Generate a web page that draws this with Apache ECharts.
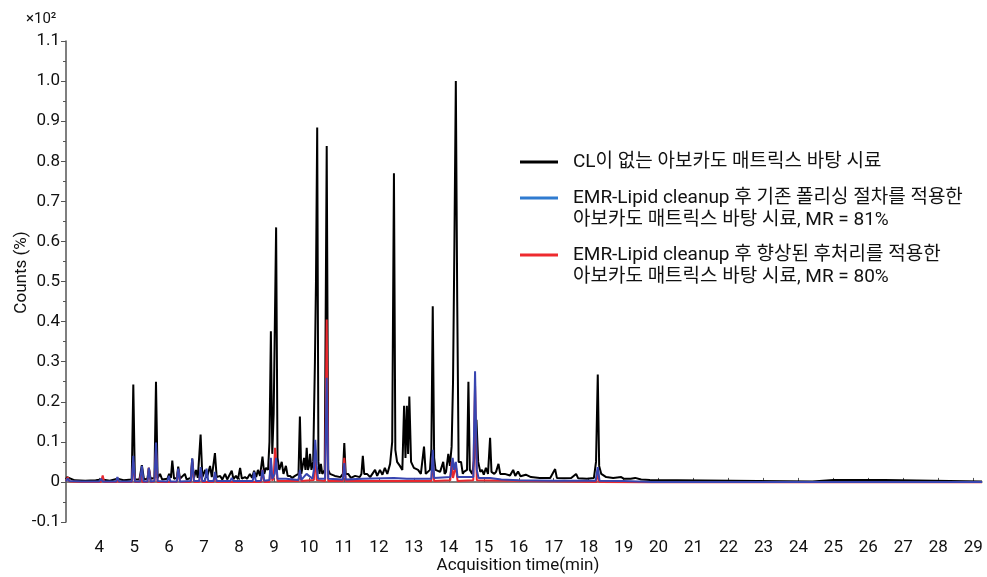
<!DOCTYPE html>
<html>
<head>
<meta charset="utf-8">
<script src="https://cdn.jsdelivr.net/npm/echarts@6/dist/echarts.min.js"></script>
<style>html,body{margin:0;padding:0;background:#fff;}#c{width:987px;height:577px;}</style>
</head>
<body>
<div id="c"></div>
<script>
const seriesNames = [
  'CL이 없는 아보카도 매트릭스 바탕 시료',
  'EMR-Lipid cleanup 후 기존 폴리싱 절차를 적용한\n아보카도 매트릭스 바탕 시료, MR = 81%',
  'EMR-Lipid cleanup 후 향상된 후처리를 적용한\n아보카도 매트릭스 바탕 시료, MR = 80%'
];
const xTicks = [4,5,6,7,8,9,10,11,12,13,14,15,16,17,18,19,20,21,22,23,24,25,26,27,28,29];

const blackT = [3.05,3.08,3.12,3.3,3.6,3.9,4.08,4.3,4.52,4.7,4.93,4.975,5.02,5.15,5.22,5.28,5.38,5.42,5.47,5.58,5.624,5.67,5.74,5.8,5.95,6.0,6.05,6.09,6.14,6.22,6.26,6.31,6.45,6.5,6.62,6.66,6.71,6.77,6.82,6.86,6.9,6.95,7.03,7.08,7.17,7.22,7.27,7.31,7.36,7.46,7.52,7.6,7.66,7.79,7.84,7.91,7.97,8.03,8.08,8.17,8.23,8.31,8.37,8.43,8.49,8.54,8.6,8.67,8.72,8.77,8.83,8.87,8.91,8.95,8.99,9.06,9.1,9.15,9.22,9.27,9.34,9.39,9.46,9.52,9.6,9.7,9.74,9.78,9.86,9.9,9.935,9.97,10.0,10.03,10.07,10.12,10.17,10.2,10.235,10.27,10.3,10.34,10.38,10.45,10.507,10.55,10.6,10.74,10.9,10.97,11.01,11.05,11.12,11.2,11.32,11.45,11.5,11.54,11.58,11.66,11.75,11.89,11.95,12.03,12.1,12.17,12.24,12.32,12.38,12.43,12.47,12.52,12.6,12.67,12.72,12.76,12.8,12.835,12.87,12.92,13.0,13.12,13.2,13.29,13.34,13.38,13.46,13.5,13.54,13.58,13.62,13.75,13.84,13.88,13.92,13.985,14.03,14.08,14.12,14.16,14.2,14.24,14.28,14.35,14.4,14.43,14.52,14.56,14.6,14.67,14.73,14.79,14.84,14.9,14.95,15.0,15.06,15.12,15.18,15.22,15.3,15.35,15.42,15.47,15.6,15.75,15.84,15.9,15.98,16.05,16.2,16.35,16.6,16.9,17.04,17.09,17.3,17.5,17.64,17.7,17.95,18.15,18.21,18.26,18.3,18.36,18.5,18.7,18.93,19.0,19.2,19.33,19.5,19.75,19.8,24.4,24.42,25.0,25.05,25.1,26.46,26.48,29.25];
const blackV = [0.006,0.012,0.008,0.004,0.003,0.004,0.006,0.003,0.008,0.004,0.006,0.243,0.006,0.006,0.042,0.006,0.008,0.035,0.008,0.01,0.25,0.01,0.02,0.006,0.008,0.02,0.01,0.053,0.008,0.01,0.038,0.008,0.02,0.006,0.01,0.058,0.01,0.03,0.01,0.012,0.118,0.012,0.03,0.01,0.04,0.012,0.015,0.072,0.012,0.015,0.006,0.02,0.006,0.028,0.007,0.015,0.007,0.035,0.008,0.012,0.008,0.02,0.01,0.028,0.012,0.03,0.015,0.063,0.02,0.035,0.03,0.1,0.376,0.07,0.17,0.635,0.06,0.03,0.05,0.02,0.04,0.015,0.015,0.01,0.015,0.02,0.163,0.02,0.06,0.03,0.085,0.03,0.04,0.07,0.03,0.05,0.3,0.5,0.884,0.05,0.02,0.045,0.02,0.03,0.838,0.03,0.02,0.015,0.012,0.02,0.097,0.02,0.02,0.01,0.015,0.012,0.02,0.065,0.02,0.02,0.012,0.03,0.015,0.03,0.018,0.035,0.02,0.045,0.1,0.77,0.08,0.05,0.04,0.03,0.19,0.06,0.19,0.07,0.213,0.05,0.035,0.03,0.02,0.088,0.02,0.02,0.03,0.08,0.438,0.06,0.03,0.025,0.05,0.02,0.025,0.07,0.04,0.088,0.25,0.6,1.0,0.45,0.05,0.05,0.02,0.025,0.03,0.25,0.03,0.02,0.06,0.155,0.05,0.025,0.03,0.018,0.035,0.02,0.11,0.025,0.02,0.025,0.045,0.02,0.02,0.016,0.03,0.015,0.026,0.014,0.018,0.012,0.01,0.01,0.032,0.01,0.009,0.01,0.02,0.009,0.008,0.01,0.05,0.268,0.04,0.02,0.012,0.01,0.012,0.008,0.008,0.01,0.006,0.005,0.001,0.001,0.005,0.005,0.009,0.005,0.005,0.001,0.001];

const blueT = [3.05,3.1,3.15,3.5,4.0,4.05,4.1,4.48,4.52,4.57,4.93,4.975,5.02,5.17,5.22,5.27,5.38,5.42,5.47,5.58,5.624,5.67,5.95,5.99,6.04,6.22,6.26,6.31,6.62,6.66,6.71,6.86,6.9,6.95,7.03,7.07,7.12,7.27,7.31,7.36,7.6,7.75,7.79,7.84,8.39,8.43,8.48,8.63,8.67,8.72,8.87,8.91,8.95,9.02,9.06,9.1,9.34,9.7,9.74,9.78,9.93,10.1,10.14,10.18,10.22,10.26,10.46,10.507,10.55,10.97,11.01,11.05,11.54,12.43,12.8,13.5,13.54,13.58,14.04,14.11,14.15,14.2,14.25,14.56,14.7,14.75,14.8,14.85,15.18,15.5,16.0,17.0,18.2,18.26,18.31,19.0,19.8,29.25];
const blueV = [0.002,0.008,0.002,0.001,0.001,0.008,0.001,0.001,0.012,0.001,0.001,0.065,0.001,0.001,0.04,0.001,0.001,0.035,0.001,0.002,0.098,0.002,0.001,0.015,0.001,0.001,0.033,0.001,0.002,0.058,0.002,0.002,0.037,0.002,0.002,0.033,0.002,0.002,0.025,0.002,0.002,0.002,0.01,0.002,0.002,0.025,0.002,0.003,0.03,0.003,0.005,0.06,0.008,0.02,0.06,0.008,0.008,0.005,0.03,0.005,0.02,0.008,0.03,0.105,0.04,0.008,0.008,0.26,0.008,0.006,0.047,0.006,0.008,0.01,0.008,0.008,0.08,0.01,0.012,0.06,0.03,0.05,0.012,0.012,0.012,0.276,0.03,0.01,0.01,0.006,0.004,0.003,0.003,0.037,0.003,0.002,0.0,0.0];

const redT = [3.05,3.1,3.15,3.5,4.05,4.1,4.14,4.5,4.52,4.56,4.93,4.975,5.02,5.15,5.19,5.23,5.38,5.42,5.47,5.58,5.624,5.67,6.22,6.26,6.31,6.62,6.66,6.71,6.86,6.9,6.95,7.27,7.31,7.36,8.63,8.67,8.72,8.87,8.91,8.95,8.99,9.03,9.06,9.1,9.7,9.74,9.78,10.14,10.18,10.22,10.46,10.507,10.55,10.97,11.01,11.05,13.5,13.54,13.58,14.04,14.08,14.12,14.2,14.25,14.7,14.75,14.8,18.22,18.26,18.3,19.8,29.25];
const redV = [0.002,0.012,0.001,0.0,0.0,0.016,0.0,0.0,0.01,0.0,0.0,0.05,0.0,0.0,0.018,0.0,0.0,0.035,0.0,0.001,0.08,0.0,0.0,0.03,0.0,0.0,0.05,0.0,0.0,0.03,0.0,0.0,0.02,0.0,0.0,0.03,0.0,0.0,0.05,0.003,0.01,0.085,0.05,0.002,0.002,0.025,0.002,0.005,0.08,0.005,0.002,0.405,0.002,0.002,0.06,0.002,0.002,0.06,0.002,0.004,0.05,0.01,0.04,0.002,0.004,0.24,0.004,0.0,0.03,0.0,-0.001,-0.001];

function pairs(t, v) { return t.map((x, i) => [x, v[i]]); }

const FONT = "Roboto, 'Noto Sans CJK KR', sans-serif";
const LINE_ICON = 'path://M0,0H38V3H0Z';
const chart = echarts.init(document.getElementById('c'), null, {renderer: 'canvas'});

function legendFor(idx, top, twoLine, iconColor) {
  return {
    show: true,
    left: 520,
    top: top,
    padding: 0,
    orient: 'vertical',
    selectedMode: false,
    itemWidth: 38,
    itemHeight: 14,
    symbolKeepAspect: true,
    formatter: twoLine ? (n => '\n' + n) : (n => n),
    data: [{
      name: seriesNames[idx],
      icon: LINE_ICON,
      itemStyle: {color: iconColor, borderWidth: 0}
    }],
    textStyle: {
      fontFamily: FONT, fontSize: 19, lineHeight: 22, color: '#111',
      padding: [0, 0, 0, 10]
    }
  };
}

const option = {
  animation: false,
  backgroundColor: '#fff',
  grid: {left: 66, right: 5, top: 41, bottom: 55, containLabel: false, outerBoundsMode: 'none'},
  legend: [
    legendFor(0, 151, false, '#000000'),
    legendFor(1, 165, true, '#2f7bd0'),
    legendFor(2, 222, true, '#ee2a2e')
  ],
  graphic: [{
    type: 'text', left: 26, top: 12,
    style: {text: '×10²', font: "15px " + FONT, fill: '#111'}
  }],
  xAxis: {
    type: 'value', min: 3.05, max: 29.25,
    position: 'bottom', offset: 11,
    name: 'Acquisition time(min)', nameLocation: 'middle', nameGap: 24, nameMoveOverlap: false,
    nameTextStyle: {fontFamily: FONT, fontSize: 17, color: '#111', padding: [0, 12, 0, 0]},
    axisLine: {show: true, lineStyle: {color: '#555', width: 1.5}},
    axisTick: {show: true, inside: true, length: 4, customValues: xTicks, lineStyle: {color: '#555'}},
    axisLabel: {customValues: xTicks, fontFamily: FONT, fontSize: 17, color: '#111', margin: 6},
    splitLine: {show: false}
  },
  yAxis: {
    type: 'value', min: -0.1, max: 1.1, interval: 0.1,
    name: 'Counts (%)', nameLocation: 'middle', nameGap: 36, nameMoveOverlap: false,
    nameTextStyle: {fontFamily: FONT, fontSize: 17, color: '#111', padding: [0, 0, 0, 18]},
    axisLine: {show: true, lineStyle: {color: '#555', width: 1.5}},
    axisTick: {show: true, length: 5, lineStyle: {color: '#555'}},
    minorTick: {show: true, splitNumber: 2, length: 3, lineStyle: {color: '#555'}},
    axisLabel: {
      fontFamily: FONT, fontSize: 17, color: '#111', margin: 6,
      formatter: v => Math.abs(v) < 1e-9 ? '0' : v.toFixed(1)
    },
    splitLine: {show: false}, minorSplitLine: {show: false}
  },
  series: [
    {name: seriesNames[0], type: 'line', symbol: 'none', data: pairs(blackT, blackV),
     lineStyle: {color: '#000', width: 2}, itemStyle: {color: '#000'}, z: 2},
    {name: seriesNames[2], type: 'line', symbol: 'none', data: pairs(redT, redV),
     lineStyle: {color: '#e8282e', width: 2}, itemStyle: {color: '#e8282e'}, z: 3},
    {name: seriesNames[1], type: 'line', symbol: 'none', data: pairs(blueT, blueV),
     lineStyle: {color: '#3845b0', width: 2}, itemStyle: {color: '#3845b0'}, z: 4}
  ]
};
chart.setOption(option);
</script>
</body>
</html>
